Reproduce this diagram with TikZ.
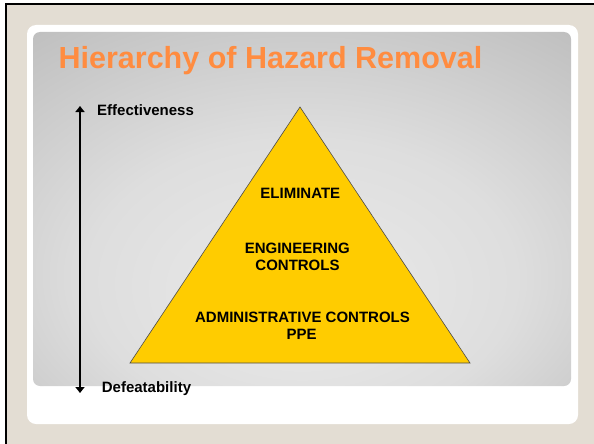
\documentclass[tikz,border=0pt]{standalone}
\usepackage{fontspec}
\usetikzlibrary{arrows.meta}
\setmainfont{Liberation Sans}
\definecolor{beige}{RGB}{227,221,211}
\definecolor{titleorange}{RGB}{255,140,64}
\definecolor{pyryellow}{RGB}{255,204,0}
\pgfdeclareradialshading{grayrad}{\pgfpoint{0bp}{-14bp}}{%
  color(0bp)=(black!8); color(20bp)=(black!13); color(45bp)=(black!28); color(70bp)=(black!42)}
\tikzset{
  lbl/.style={font=\bfseries\fontsize{15}{17}\selectfont, text=black, inner sep=0pt, anchor=base},
}
\begin{document}
\begin{tikzpicture}[x=1pt,y=-1pt]
\useasboundingbox (0,0) rectangle (594,444);
\fill[white] (0,0) rectangle (594,444);
\fill[beige] (6,4) rectangle (594,444);
\draw[line width=2pt] (6,444) -- (6,4) -- (594,4);
\fill[white, rounded corners=9pt] (27,25) rectangle (578,424);
\shade[shading=grayrad, rounded corners=7pt] (33,32) rectangle (571,386);
\node[font=\bfseries\fontsize{30.5}{33}\selectfont, text=titleorange, inner sep=0pt, anchor=base] (title) at (270.5,68) {Hierarchy of Hazard Removal};
% triangle
\coordinate (apex) at (300,107);
\coordinate (bl) at (130,363);
\coordinate (br) at (470,363);
\filldraw[fill=pyryellow, draw=black!70, line width=0.6pt] (apex) -- (br) -- (bl) -- cycle;
\node[lbl] (elim) at (300.3,198) {ELIMINATE};
\node[lbl] (eng1) at (297.3,253) {ENGINEERING};
\node[lbl] (eng2) at (297.5,270) {CONTROLS};
\node[lbl] (adm1) at (302.5,322) {ADMINISTRATIVE CONTROLS};
\node[lbl] (adm2) at (301.7,339) {PPE};
% arrow
\coordinate (atop) at (80,106);
\coordinate (abot) at (80,393);
\draw[line width=1.6pt, {Triangle[length=6pt,width=9pt]}-{Triangle[length=6pt,width=9pt]}] (atop) -- (abot);
\node[lbl, anchor=base west] (eff) at (97,115) {Effectiveness};
\node[lbl, anchor=base west] (def) at (101.7,392) {Defeatability};
\end{tikzpicture}
\end{document}
